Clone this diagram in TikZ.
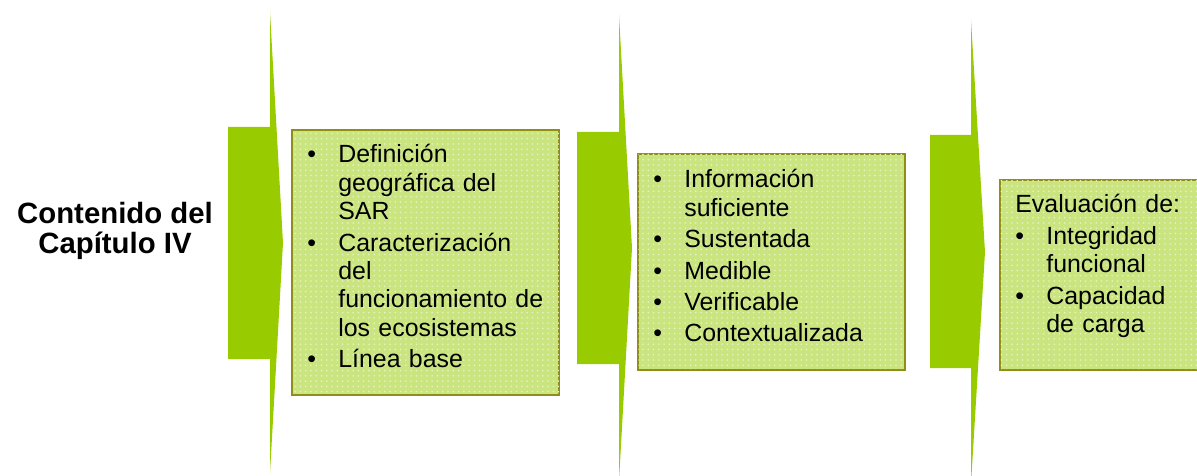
\documentclass[tikz,border=0pt]{standalone}
\usepackage{fontspec}
\setmainfont{Liberation Sans}
\usetikzlibrary{positioning,patterns}
\definecolor{leafgreen}{RGB}{153,204,0}
\definecolor{palegreen}{RGB}{202,229,128}
\definecolor{olive}{RGB}{143,143,24}
\newlength{\pxu}\setlength{\pxu}{0.02cm}
\newlength{\bulind}\setlength{\bulind}{31\pxu}
\newcommand{\bul}[1]{\noindent\hangindent=\bulind\hangafter=1\makebox[\bulind][l]{\textbullet}#1\par}

\begin{document}
\begin{tikzpicture}[
  x=0.02cm, y=-0.02cm,
  chev/.style={fill=leafgreen},
  panel/.style={
    draw=olive,
    line width=2\pxu,
    fill=palegreen,
    postaction={pattern=dots, pattern color=white!55!palegreen},
    anchor=north west,
    inner sep=0pt,
    outer sep=0pt
  },
  txt/.style={
    anchor=base west,
    inner sep=0pt,
    text width=#1,
    align=left,
    font=\fontsize{14.17}{16.16}\selectfont\setlength{\parskip}{3\pxu}
  },
  ttl/.style={font=\fontsize{16.7}{17}\selectfont\bfseries, align=center}
]
\useasboundingbox (0,0) rectangle (1197,476);

% title
\node[ttl] (title) at (115,231) {Contenido del\\Capítulo IV};

% arrows
\fill[chev] (228,127) -- (270,127) -- (270,12) -- (283,243) -- (270,473) -- (270,359) -- (228,359) -- cycle;
\fill[chev] (577,132) -- (619,132) -- (619,15) -- (632,248) -- (619,481) -- (619,364) -- (577,364) -- cycle;
\fill[chev] (930,135) -- (971,135) -- (971,20) -- (985,252) -- (971,484) -- (971,368) -- (930,368) -- cycle;

% panels
\node[panel, minimum width=5.34cm, minimum height=5.30cm] (b1) at (292,130) {};
\node[panel, minimum width=5.34cm, minimum height=4.32cm] (b2) at (638,154) {};
\node[panel, minimum width=4.80cm, minimum height=3.80cm] (b3) at (1000,180) {};

\node[txt=250\pxu] (t1) at ([shift={(15,33)}]b1.north west)
  {\bul{Definición\newline geográfica del\newline SAR}\bul{Caracterización\newline del\newline funcionamiento de\newline los ecosistemas}\bul{Línea base}};
\node[txt=250\pxu] (t2) at ([shift={(15,34)}]b2.north west)
  {\bul{Información\newline suficiente}\bul{Sustentada}\bul{Medible}\bul{Verificable}\bul{Contextualizada}};
\node[txt=220\pxu] (t3) at ([shift={(15,33)}]b3.north west)
  {Evaluación de:\par\bul{Integridad\newline funcional}\bul{Capacidad\newline de carga}};
\end{tikzpicture}
\end{document}
